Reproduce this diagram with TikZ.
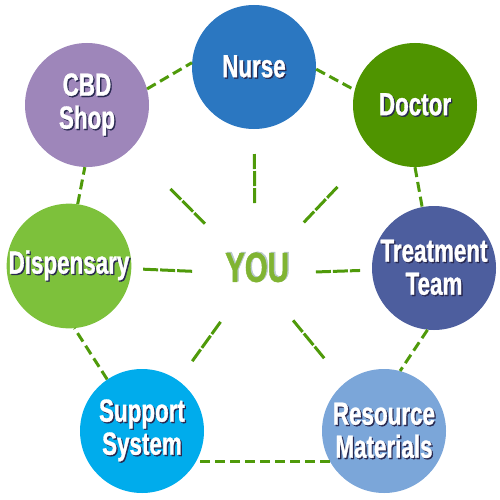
\documentclass[tikz,border=0pt]{standalone}
\usepackage{fontspec}
\newfontfamily\lblfont{Liberation Sans}[FakeStretch=0.7, FakeBold=1]
\definecolor{nurseblue}{RGB}{43, 119, 193}
\definecolor{doctorgreen}{RGB}{79, 148, 0}
\definecolor{teamblue}{RGB}{77, 94, 158}
\definecolor{resblue}{RGB}{123, 166, 217}
\definecolor{supportcyan}{RGB}{0, 172, 236}
\definecolor{dispgreen}{RGB}{125, 193, 59}
\definecolor{cbdviolet}{RGB}{158, 134, 186}
\definecolor{dashgreen}{RGB}{79, 154, 10}
\definecolor{yougreen}{RGB}{128, 180, 50}
\definecolor{yougrey}{RGB}{184, 200, 204}
\definecolor{shadowdark}{RGB}{40, 40, 80}
\usetikzlibrary{positioning}
\newcommand{\shd}[1]{\rlap{\kern1.3pt\raisebox{-1.3pt}{\textcolor{shadowdark}{#1}}}#1}
\tikzset{
  person/.style={circle, minimum size=124pt, inner sep=0pt, align=center, text=white,
    font=\lblfont\bfseries\fontsize{32}{33}\selectfont},
  ring/.style={draw=dashgreen, line width=3pt, dash pattern=on 10pt off 5pt},
  spoke/.style={draw=dashgreen, line width=3pt, dash pattern=on 15pt off 2pt}
}

\begin{document}
\begin{tikzpicture}[x=1pt, y=-1pt]
  \useasboundingbox (0,0) rectangle (500,500);

  % Circles
  \node[person, fill=nurseblue] (nurse) at (254,67) {\shd{Nurse}};
  \node[person, fill=doctorgreen] (doctor) at (415,105) {\shd{Doctor}};
  \node[person, fill=teamblue] (team) at (434,268) {\shd{Treatment}\\\shd{Team}};
  \node[person, fill=resblue] (resource) at (384,431) {\shd{Resource}\\\shd{Materials}};
  \node[person, fill=supportcyan] (support) at (142,431) {\shd{Support}\\\shd{System}};
  \node[person, fill=dispgreen] (disp) at (69,266) {\shd{Dispensary}};
  \node[person, fill=cbdviolet] (cbd) at (87,105) {\shd{CBD}\\\shd{Shop}};

  % Centre
  \node[text=yougreen, font=\lblfont\bfseries\fontsize{42}{42}\selectfont] (you) at (257,267)
    {\rlap{\kern1.5pt\raisebox{0.8pt}{\textcolor{yougrey}{YOU}}}YOU};
  \coordinate (hub) at (255,274);

  % Outer ring
  \draw[ring] (cbd.15) -- (nurse.176);
  \draw[ring] (nurse.-2) -- (doctor.166);
  \draw[ring] (doctor.-90) -- (team.101);
  \draw[ring] (team.-96) -- (resource.75);
  \draw[ring] (resource.209) -- (support.-29);
  \draw[ring] (support.124) -- (disp.-85);
  \draw[ring] (disp.82) -- (cbd.-92);

  % Spokes
  \foreach \n/\a/\b in {nurse/71/87, doctor/71/111, team/61/74, resource/60/94,
                        support/59/86, disp/63/74, cbd/71/118}
    \draw[spoke, shorten <=\a pt, shorten >=\b pt] (hub) -- (\n.center);
\end{tikzpicture}
\end{document}
